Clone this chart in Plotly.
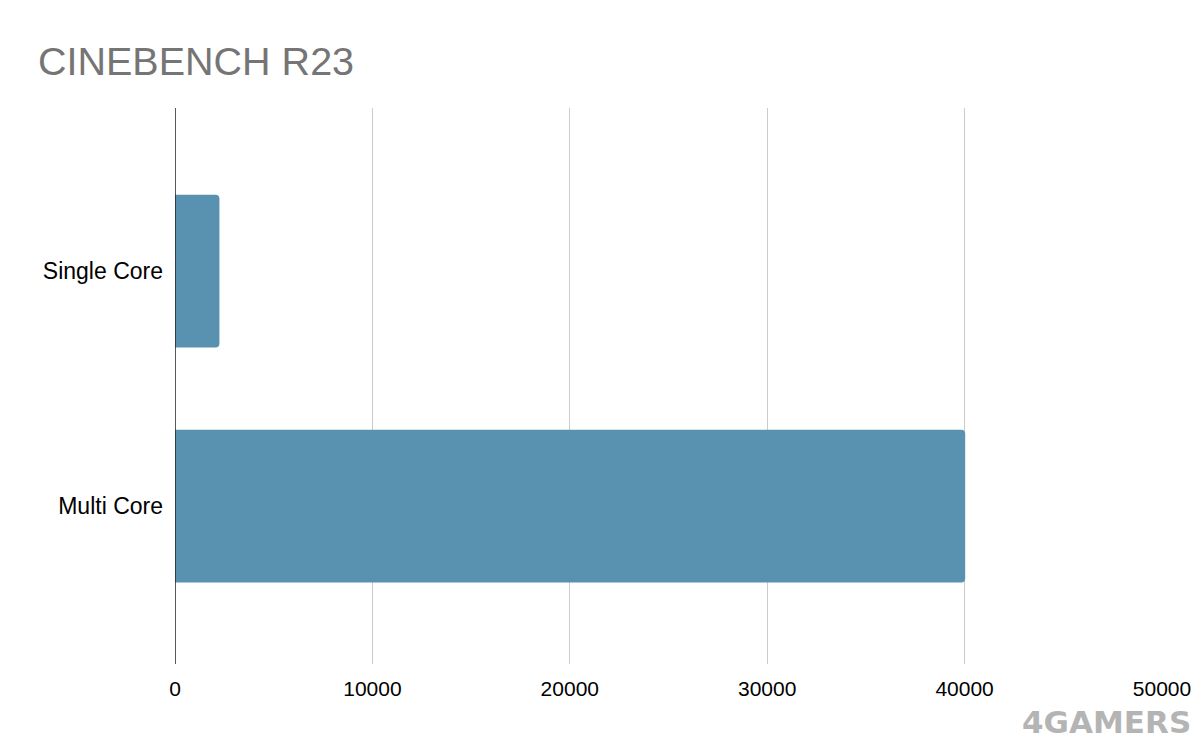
import plotly.graph_objects as go

categories = ["Single Core", "Multi Core"]
scores = [2250, 40030]
x_ticks = [0, 10000, 20000, 30000, 40000, 50000]

# the page body adds an 8px offset; positions below compensate for it
OFF = 8
W, H = 1200, 742

fig = go.Figure(go.Bar(
    x=scores, y=categories, orientation="h",
    marker=dict(color="#5992b0", cornerradius=4, line=dict(width=0)),
    hoverinfo="x+y",
))

fig.update_layout(
    width=W, height=H,
    margin=dict(l=175 - OFF, r=W - (1162 - OFF), t=108 - OFF, b=H - (664 - OFF), autoexpand=False),
    paper_bgcolor="white", plot_bgcolor="white",
    font=dict(family="Liberation Sans, Arial, sans-serif", size=21, color="#000000"),
    title=dict(text="CINEBENCH R23", x=(38 - OFF) / W, xanchor="left", y=1 - (61 - OFF) / H,
               yanchor="middle",
               font=dict(size=39.5, color="#757575", family="Liberation Sans, Arial, sans-serif")),
    bargap=0.35,
    showlegend=False,
)
fig.update_xaxes(range=[0, 50000], tickvals=x_ticks, ticktext=[str(v) for v in x_ticks],
                 showgrid=True, gridcolor="#cccccc", gridwidth=1, zeroline=False,
                 showline=False, ticks="", ticklabelstandoff=10,
                 tickfont=dict(size=21))
fig.update_yaxes(range=[1.672, -0.694], showgrid=False, zeroline=False, showline=False,
                 ticks="", ticklabelstandoff=11, tickfont=dict(size=23))
fig.add_shape(type="line", xref="x", yref="paper", x0=0, x1=0, y0=0, y1=1,
              line=dict(color="#222222", width=1.5), layer="above")
fig.add_annotation(text="<b>4GAMERS</b>", xref="paper", yref="paper",
                   x=(1192 - OFF - 167) / (W - 167 - (W - 1154)), y=0,
                   xanchor="right", yanchor="bottom", yshift=-(733 - 656), showarrow=False,
                   borderpad=0,
                   font=dict(size=31, color="#b4b4b4", family="DejaVu Sans, sans-serif"))
fig.write_html("out.html")
